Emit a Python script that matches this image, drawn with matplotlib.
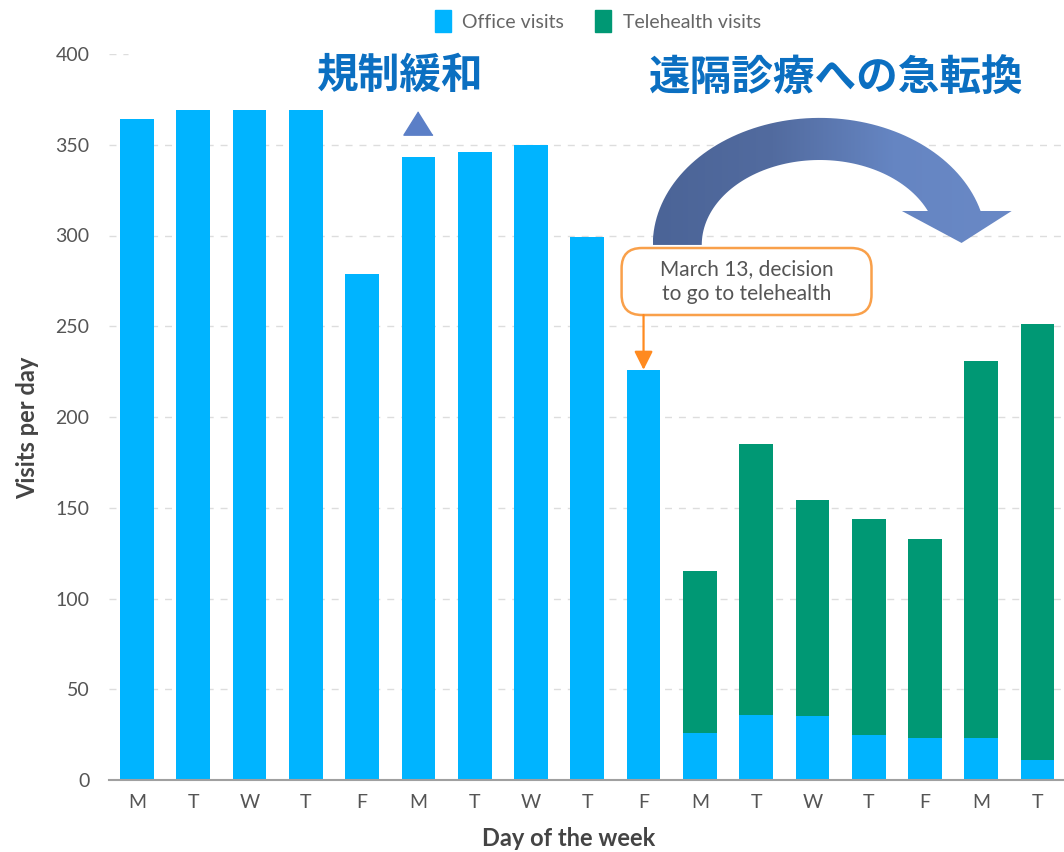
import numpy as np
import matplotlib
matplotlib.use("Agg")
import matplotlib.pyplot as plt
from matplotlib.patches import Polygon, Rectangle, FancyBboxPatch
from matplotlib.colors import LinearSegmentedColormap

plt.rcParams['font.family'] = ['Lato', 'DejaVu Sans']

days = ["M", "T", "W", "T", "F"] * 3 + ["M", "T"]
office = [364, 369, 369, 369, 279, 343, 346, 350, 299, 226, 26, 36, 35, 25, 23, 23, 11]
telehealth = [0] * 10 + [89, 149, 119, 119, 110, 208, 240]
yticks = [0, 50, 100, 150, 200, 250, 300, 350, 400]

office_color = "#00b4ff"
tele_color = "#009874"
jp_color = "#0b6fc1"

fig = plt.figure(figsize=(10.64, 8.52), dpi=100)
ax = fig.add_axes([109 / 1064, 1 - 780 / 852, 1 - 109 / 1064, (780 - 54) / 852])

x = np.arange(len(days))
ax.bar(x, office, width=0.6, color=office_color, zorder=2)
ax.bar(x, telehealth, width=0.6, bottom=office, color=tele_color, zorder=2)

xlim = (-0.497, 16.47)
ylim = (0, 400)

# dashed gridlines; the top one is only a short stub
ax.hlines(yticks[1:-1], xlim[0], xlim[1], colors="#dddddd", linestyles=(0, (5, 5)), lw=1, zorder=1)
ax.hlines(yticks[-1], xlim[0], -0.16, colors="#dddddd", linestyles=(0, (5, 5)), lw=1, zorder=1)

ax.set_xticks(x)
ax.set_xticklabels(days)
ax.set_yticks(yticks)
ax.tick_params(axis="both", length=0, labelsize=14, labelcolor="#555555")
ax.tick_params(axis="x", pad=10)
ax.tick_params(axis="y", pad=14)
for s in ["top", "right", "left"]:
    ax.spines[s].set_visible(False)
ax.spines["bottom"].set_color("#a0a0a0")
ax.spines["bottom"].set_linewidth(1.5)

fig.text(28 / 1064, 1 - 428 / 852, "Visits per day", rotation=90, ha="center", va="center",
         fontsize=17, fontweight="bold", color="#444444")
fig.text(569 / 1064, 1 - 838 / 852, "Day of the week", ha="center", va="center",
         fontsize=17, fontweight="bold", color="#444444")

handles = [Rectangle((0, 0), 1, 1, color=office_color), Rectangle((0, 0), 1, 1, color=tele_color)]
fig.legend(handles, ["Office visits", "Telehealth visits"], loc="center", ncol=2,
           bbox_to_anchor=(598 / 1064, 1 - 21 / 852), frameon=False, fontsize=14,
           labelcolor="#666666", handlelength=0.8, handleheight=1.3, handletextpad=0.6,
           columnspacing=1.6)

# deregulation marker and headings
ax.plot([5], [362], marker=[(0, 0.8), (-1, -0.8), (1, -0.8)], markersize=21,
        color="#5b7fc7", linestyle="none", zorder=3, clip_on=False)
ax.text(4.67, 388, "規制緩和", ha="center", va="center", fontsize=30, fontweight="bold",
        color=jp_color, family=["Noto Sans CJK JP", "DejaVu Sans"])
ax.text(12.42, 387, "遠隔診療への急転換", ha="center", va="center", fontsize=30, fontweight="bold",
        color=jp_color, family=["Noto Sans CJK JP", "DejaVu Sans"])

# curved arrow: elliptical band with a flat-based head
cx, cy = 12.13, 294.8
orx, ory = 2.966, 70.0
irx, iry = 2.096, 46.8
head_y = 313.5
head_left, head_right = 13.59, 15.54
tip = (14.65, 295.9)
to_end = np.arcsin((head_y - cy) / ory)
ti_end = np.arcsin((head_y - cy) / iry)
t_out = np.linspace(np.pi, to_end, 80)
t_in = np.linspace(ti_end, np.pi, 80)
pts = [(cx + orx * np.cos(t), cy + ory * np.sin(t)) for t in t_out]
pts += [(head_right, head_y), tip, (head_left, head_y)]
pts += [(cx + irx * np.cos(t), cy + iry * np.sin(t)) for t in t_in]
band = Polygon(pts, closed=True, facecolor="none", edgecolor="none", zorder=3)
ax.add_patch(band)
cmap = LinearSegmentedColormap.from_list("arc", ["#4b6497", "#526b9f", "#6585c2", "#6a89c6"])
grad = np.linspace(0, 1, 256).reshape(1, -1)
im = ax.imshow(grad, extent=[cx - orx, head_right, cy - 5, cy + ory + 5], aspect="auto",
               cmap=cmap, zorder=3, interpolation="bicubic")
im.set_clip_path(band)

# callout for the telehealth switch
box_x0, box_x1 = 8.61, 13.05
box_y0, box_y1 = 256.2, 293.1
callout = FancyBboxPatch((box_x0, box_y0), box_x1 - box_x0, box_y1 - box_y0,
                         boxstyle="round,pad=0,rounding_size=0.36", mutation_aspect=31,
                         fc="white", ec="#f9a04a", lw=1.8, zorder=4)
ax.add_patch(callout)
ax.text((box_x0 + box_x1) / 2, (box_y0 + box_y1) / 2, "March 13, decision\nto go to telehealth",
        ha="center", va="center", fontsize=15, color="#555555", linespacing=1.35, zorder=5)
ax.annotate("", xy=(9, office[9]), xytext=(9, box_y0),
            arrowprops=dict(arrowstyle="-|>", color="#ff8a1f", lw=1.6, mutation_scale=28,
                            shrinkA=0, shrinkB=0), zorder=4)

ax.set_xlim(*xlim)
ax.set_ylim(*ylim)

fig.savefig("out.png", dpi=100)
